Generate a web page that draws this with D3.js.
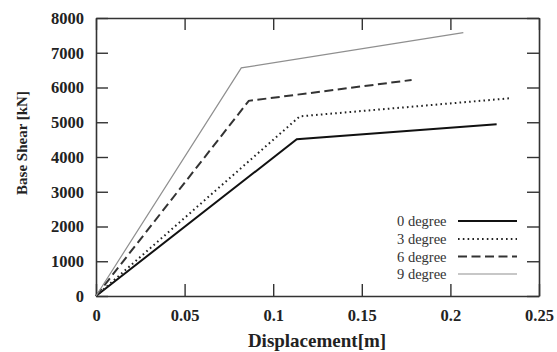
<!DOCTYPE html>
<html>
<head>
<meta charset="utf-8">
<script src="https://cdn.jsdelivr.net/npm/d3@7/dist/d3.min.js"></script>
<style>
  html, body { margin: 0; padding: 0; background: #fff; }
  svg { display: block; }
</style>
</head>
<body>
<svg id="chart" width="557" height="352"></svg>
<script>
// ---- data ----
const seriesNames = ["0 degree", "3 degree", "6 degree", "9 degree"];
const disp0 = [0, 0.1133, 0.2261];
const shear0 = [0, 4510, 4945];
const disp3 = [0, 0.1150, 0.2336];
const shear3 = [0, 5170, 5690];
const disp6 = [0, 0.0862, 0.1781];
const shear6 = [0, 5615, 6216];
const disp9 = [0, 0.0820, 0.2073];
const shear9 = [0, 6565, 7577];
const xTicks = [0, 0.05, 0.1, 0.15, 0.2, 0.25];
const xTickLabels = ["0", "0.05", "0.1", "0.15", "0.2", "0.25"];
const yTicks = [0, 1000, 2000, 3000, 4000, 5000, 6000, 7000, 8000];
const yTickLabels = ["0", "1000", "2000", "3000", "4000", "5000", "6000", "7000", "8000"];

const seriesDisp = [disp0, disp3, disp6, disp9];
const seriesShear = [shear0, shear3, shear6, shear9];
const styles = [
  { stroke: "#111", width: 2, dash: null },
  { stroke: "#222", width: 2, dash: "1.6,3.2" },
  { stroke: "#333", width: 2, dash: "9,4.5" },
  { stroke: "#8f8f8f", width: 1.2, dash: null }
];

// ---- layout ----
const svg = d3.select("#chart");
const L = 96, R = 539, T = 18, B = 296;
const x = d3.scaleLinear().domain([0, 0.25]).range([L, R]);
const y = d3.scaleLinear().domain([0, 8000]).range([B, T]);
const tickLen = 12;
const font = "'Liberation Serif', 'DejaVu Serif', serif";

// axes (inward ticks, mirrored)
const gx = svg.append("g").attr("transform", `translate(0,${B})`)
  .call(d3.axisBottom(x).tickValues(xTicks).tickFormat((d, i) => xTickLabels[i])
    .tickSizeInner(-tickLen).tickSizeOuter(0).tickPadding(12));
const gxt = svg.append("g").attr("transform", `translate(0,${T})`)
  .call(d3.axisTop(x).tickValues(xTicks).tickFormat("").tickSizeInner(-tickLen).tickSizeOuter(0));
const gy = svg.append("g").attr("transform", `translate(${L},0)`)
  .call(d3.axisLeft(y).tickValues(yTicks).tickFormat((d, i) => yTickLabels[i])
    .tickSizeInner(-tickLen).tickSizeOuter(0).tickPadding(12));
const gyr = svg.append("g").attr("transform", `translate(${R},0)`)
  .call(d3.axisRight(y).tickValues(yTicks).tickFormat("").tickSizeInner(-tickLen).tickSizeOuter(0));

[gx, gxt, gy, gyr].forEach(g => {
  g.select(".domain").attr("stroke", "#333").attr("stroke-width", 1.6);
  g.selectAll(".tick line").attr("stroke", "#333").attr("stroke-width", 1.4);
  g.selectAll("text").attr("font-family", font).attr("font-weight", "bold")
    .attr("font-size", "16.5px").attr("fill", "#222");
});
gx.selectAll(".tick text").attr("dy", "0em").attr("y", 25);

// lines
const line = d3.line().x(d => x(d[0])).y(d => y(d[1]));
seriesNames.forEach((name, i) => {
  const pts = seriesDisp[i].map((d, j) => [d, seriesShear[i][j]]);
  const p = svg.append("path").datum(pts)
    .attr("d", line)
    .attr("fill", "none")
    .attr("stroke", styles[i].stroke)
    .attr("stroke-width", styles[i].width)
    .attr("stroke-linejoin", "miter");
  if (styles[i].dash) p.attr("stroke-dasharray", styles[i].dash);
});

// axis labels
svg.append("text")
  .attr("x", 317).attr("y", 347)
  .attr("text-anchor", "middle")
  .attr("font-family", font).attr("font-weight", "bold").attr("font-size", "19px")
  .attr("fill", "#222")
  .text("Displacement[m]");

svg.append("text")
  .attr("transform", "translate(27,143) rotate(-90)")
  .attr("text-anchor", "middle")
  .attr("font-family", font).attr("font-weight", "bold").attr("font-size", "15px")
  .attr("fill", "#222")
  .text("Base Shear [kN]");

// legend
const legendRowY = [221, 239, 256.5, 274];
const leg = svg.append("g");
seriesNames.forEach((name, i) => {
  leg.append("text")
    .attr("x", 397).attr("y", legendRowY[i] + 5)
    .attr("font-family", font).attr("font-size", "14.5px").attr("fill", "#333")
    .text(name);
  const l = leg.append("line")
    .attr("x1", 458).attr("x2", 517)
    .attr("y1", legendRowY[i]).attr("y2", legendRowY[i])
    .attr("stroke", styles[i].stroke).attr("stroke-width", styles[i].width);
  if (styles[i].dash) l.attr("stroke-dasharray", styles[i].dash);
});
</script>
</body>
</html>
